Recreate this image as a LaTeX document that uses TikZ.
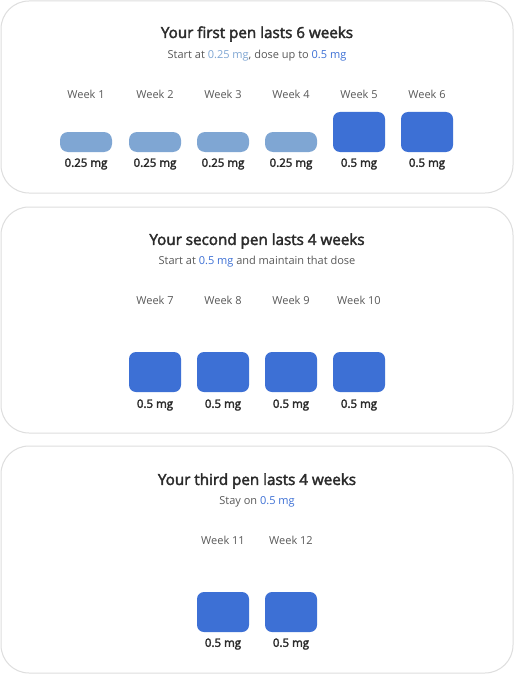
\documentclass[tikz,border=0pt]{standalone}
\usepackage{fontspec}
\setmainfont{Open Sans}
\newfontfamily\mediumfont[FakeBold=2.5]{Open Sans}
\definecolor{lowdose}{HTML}{7FA6D3}
\definecolor{fulldose}{HTML}{3D70D5}
\definecolor{panelline}{HTML}{DEDEDE}
\definecolor{titletext}{HTML}{2B2B2B}
\definecolor{subtext}{HTML}{595959}
\begin{document}
\begin{tikzpicture}[x=1pt,y=-1pt,inner sep=0pt,outer sep=0pt,
panel/.style={draw=panelline,line width=1pt,rounded corners=28pt,fill=white},
pentitle/.style={text=titletext,font=\fontsize{15.2}{18}\selectfont\mediumfont},
pensub/.style={text=subtext,font=\fontsize{11}{13}\selectfont},
weeklabel/.style={text=subtext,font=\fontsize{11}{13}\selectfont},
dose/.style={text=titletext,font=\fontsize{11.5}{13}\selectfont\mediumfont},
lowbar/.style={fill=lowdose,rounded corners=8pt,minimum width=52pt,minimum height=20pt},
fullbar/.style={fill=fulldose,rounded corners=7pt,minimum width=52pt,minimum height=40pt}]

\useasboundingbox (0,0) rectangle (514,674);
\fill[white] (0,0) rectangle (514,674);

% first pen
\draw[panel] (1,1) rectangle (513,193);
\draw (257,34) node[pentitle] (t1) {Your first pen lasts 6 weeks};
\draw (257,56) node[pensub] (s1) {Start at {\color{lowdose}0.25 mg}, dose up to {\color{fulldose}0.5 mg}};

\draw (86,94) node[weeklabel] (w1) {Week 1};
\draw (155,94) node[weeklabel] (w2) {Week 2};
\draw (223,94) node[weeklabel] (w3) {Week 3};
\draw (291,94) node[weeklabel] (w4) {Week 4};
\draw (359,94) node[weeklabel] (w5) {Week 5};
\draw (427,94) node[weeklabel] (w6) {Week 6};

\draw (86,142) node[lowbar] (b1) {};
\draw (155,142) node[lowbar] (b2) {};
\draw (223,142) node[lowbar] (b3) {};
\draw (291,142) node[lowbar] (b4) {};
\draw (359,132) node[fullbar] (b5) {};
\draw (427,132) node[fullbar] (b6) {};

\draw (86,164) node[dose] (d1) {0.25 mg};
\draw (155,164) node[dose] (d2) {0.25 mg};
\draw (223,164) node[dose] (d3) {0.25 mg};
\draw (291,164) node[dose] (d4) {0.25 mg};
\draw (359,164) node[dose] (d5) {0.5 mg};
\draw (427,164) node[dose] (d6) {0.5 mg};

% second pen
\draw[panel] (1,207) rectangle (513,433);
\draw (257,241) node[pentitle] (t2) {Your second pen lasts 4 weeks};
\draw (257,262) node[pensub] (s2) {Start at {\color{fulldose}0.5 mg} and maintain that dose};

\draw (155,300) node[weeklabel] (w7) {Week 7};
\draw (223,300) node[weeklabel] (w8) {Week 8};
\draw (291,300) node[weeklabel] (w9) {Week 9};
\draw (359,300) node[weeklabel] (w10) {Week 10};

\draw (155,372) node[fullbar] (b7) {};
\draw (223,372) node[fullbar] (b8) {};
\draw (291,372) node[fullbar] (b9) {};
\draw (359,372) node[fullbar] (b10) {};

\draw (155,405) node[dose] (d7) {0.5 mg};
\draw (223,405) node[dose] (d8) {0.5 mg};
\draw (291,405) node[dose] (d9) {0.5 mg};
\draw (359,405) node[dose] (d10) {0.5 mg};

% third pen
\draw[panel] (1,446) rectangle (513,673);
\draw (257,481) node[pentitle] (t3) {Your third pen lasts 4 weeks};
\draw (257,502) node[pensub] (s3) {Stay on {\color{fulldose}0.5 mg}};

\draw (223,540) node[weeklabel] (w11) {Week 11};
\draw (291,540) node[weeklabel] (w12) {Week 12};

\draw (223,612) node[fullbar] (b11) {};
\draw (291,612) node[fullbar] (b12) {};

\draw (223,644) node[dose] (d11) {0.5 mg};
\draw (291,644) node[dose] (d12) {0.5 mg};
\end{tikzpicture}
\end{document}
